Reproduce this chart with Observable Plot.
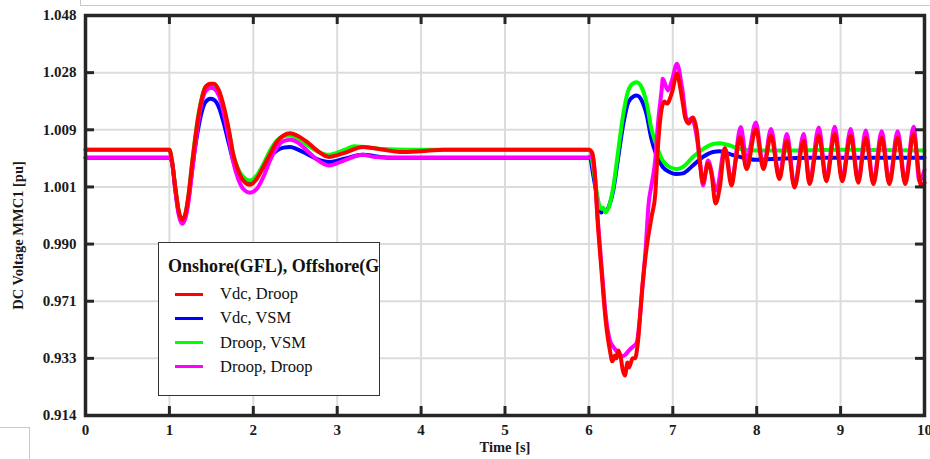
<!DOCTYPE html>
<html>
<head>
<meta charset="utf-8">
<script src="https://cdn.jsdelivr.net/npm/d3@7"></script>
<script src="https://cdn.jsdelivr.net/npm/@observablehq/plot@0.6"></script>
<style>
  html, body { margin: 0; padding: 0; background: #fff; }
  #wrap { position: relative; width: 930px; height: 459px; overflow: hidden; }
  .art { position: absolute; border-color: #c9c9c9; border-style: solid; border-width: 0; }
  #legend { position: absolute; left: 158px; top: 242px; width: 220px; height: 152px;
    border: 1.5px solid #333; background: #fff; overflow: hidden;
    font-family: "Liberation Serif", "Times New Roman", serif; color: #111; }
  #legend .title { position: absolute; left: 9px; top: 13px; font-weight: bold; font-size: 18px; white-space: nowrap; }
  #legend .row { position: absolute; left: 16px; height: 20px; display: flex; align-items: center; font-size: 16.5px; white-space: nowrap; }
  #legend .sw { width: 28px; height: 3px; margin-right: 17px; }
</style>
</head>
<body>
<div id="wrap"></div>
<script>
// ---- data (time [s], DC voltage [pu]) ----
const xTicks = [0, 1, 2, 3, 4, 5, 6, 7, 8, 9, 10];
const yTicks = [0.914, 0.933, 0.971, 0.990, 1.001, 1.009, 1.028, 1.048];
const seriesNames = ["Vdc, Droop", "Vdc, VSM", "Droop, VSM", "Droop, Droop"];
const seriesColors = ["#ff0000", "#0000ff", "#00ff00", "#ff00ff"];
const legendTitle = "Onshore(GFL), Offshore(GFM)";
const xLabel = "Time [s]";
const yLabel = "DC Voltage MMC1 [pu]";

const vdcDroop = [[0,1.0062],[1.0,1.0062],[1.03,1.0047],[1.07,1.0009],[1.11,0.9965],[1.15,0.9947],[1.19,0.9958],[1.23,0.9997],[1.27,1.0042],[1.31,1.0080],[1.35,1.0143],[1.39,1.0198],[1.43,1.0232],[1.49,1.0243],[1.53,1.0243],[1.59,1.0221],[1.65,1.0165],[1.71,1.0089],[1.76,1.0056],[1.82,1.0033],[1.88,1.0019],[1.96,1.0013],[2.04,1.0021],[2.12,1.0038],[2.20,1.0056],[2.28,1.0073],[2.36,1.0082],[2.44,1.0085],[2.52,1.0082],[2.64,1.0073],[2.76,1.0061],[2.90,1.0052],[3.07,1.0057],[3.31,1.0066],[3.55,1.0062],[3.75,1.0059],[3.99,1.0060],[4.27,1.0062],[4.6,1.0062],[6.0,1.0062],
[6.04,1.0058],[6.07,1.0029],[6.10,0.9955],[6.15,0.9812],[6.20,0.9582],[6.25,0.9383],[6.28,0.9320],[6.31,0.9349],[6.33,0.9330],[6.35,0.9383],[6.38,0.9336],[6.40,0.9296],[6.43,0.9273],[6.46,0.9316],[6.48,0.9300],[6.52,0.9330],[6.55,0.9330],[6.58,0.9416],[6.64,0.9769],[6.70,0.9907],[6.75,0.9955],[6.79,0.9994],[6.82,1.0061],[6.87,1.0164],[6.90,1.0184],[6.93,1.0177],[6.99,1.0214],[7.05,1.0277],[7.08,1.0244],[7.12,1.0177],[7.15,1.0128],[7.19,1.0111],[7.24,1.0131],[7.29,1.0085],[7.32,1.0047],[7.36,1.0016],[7.42,1.0043],[7.46,1.0029],[7.51,0.9978],[7.56,1.0009],[7.62,1.0064],[7.70,1.0012],[7.75,1.0047],[7.80,1.0080],[7.88,1.0035],[7.99,1.0093],[8.08,1.0035],[8.17,1.0082],[8.27,1.0021],[8.36,1.0075],[8.45,1.0009],[8.56,1.0075],[8.63,1.0014],[8.74,1.0082],[8.83,1.0018],[8.93,1.0084],[9.02,1.0018],[9.12,1.0082],[9.21,1.0016],[9.30,1.0079],[9.39,1.0014],[9.49,1.0079],[9.58,1.0014],[9.68,1.0079],[9.77,1.0014],[9.87,1.0084],[9.96,1.0011],[10.0,1.0016]];

const vdcVsm = [[0,1.0051],[1.0,1.0051],[1.03,1.0045],[1.07,1.0007],[1.11,0.9961],[1.15,0.9946],[1.19,0.9955],[1.23,0.9990],[1.27,1.0033],[1.31,1.0068],[1.35,1.0104],[1.39,1.0154],[1.43,1.0182],[1.49,1.0193],[1.53,1.0190],[1.59,1.0165],[1.65,1.0110],[1.71,1.0070],[1.76,1.0047],[1.82,1.0031],[1.88,1.0020],[1.96,1.0017],[2.04,1.0023],[2.12,1.0038],[2.20,1.0052],[2.28,1.0061],[2.36,1.0065],[2.44,1.0066],[2.52,1.0063],[2.64,1.0056],[2.76,1.0049],[2.90,1.0045],[3.1,1.0050],[3.3,1.0055],[3.6,1.0051],[6.0,1.0051],
[6.01,1.0052],[6.05,1.0028],[6.09,0.9997],[6.12,0.9968],[6.15,0.9961],[6.17,0.9966],[6.21,0.9965],[6.25,0.9978],[6.29,1.0003],[6.35,1.0052],[6.41,1.0110],[6.47,1.0182],[6.53,1.0201],[6.57,1.0204],[6.63,1.0187],[6.69,1.0138],[6.74,1.0080],[6.80,1.0056],[6.88,1.0038],[6.96,1.0031],[7.04,1.0028],[7.12,1.0029],[7.24,1.0040],[7.36,1.0052],[7.48,1.0059],[7.56,1.0060],[7.68,1.0056],[7.80,1.0052],[7.99,1.0048],[8.19,1.0049],[8.6,1.0051],[10,1.0051]];

const droopVsm = [[0,1.0062],[1.0,1.0062],[1.03,1.0047],[1.07,1.0009],[1.11,0.9964],[1.15,0.9946],[1.19,0.9958],[1.23,0.9997],[1.27,1.0043],[1.31,1.0082],[1.35,1.0147],[1.39,1.0201],[1.43,1.0233],[1.49,1.0241],[1.53,1.0238],[1.59,1.0218],[1.65,1.0160],[1.71,1.0087],[1.76,1.0056],[1.82,1.0035],[1.88,1.0024],[1.96,1.0019],[2.04,1.0026],[2.12,1.0042],[2.20,1.0061],[2.28,1.0075],[2.36,1.0081],[2.44,1.0082],[2.52,1.0079],[2.64,1.0069],[2.76,1.0060],[2.90,1.0055],[3.11,1.0063],[3.2,1.0067],[3.55,1.0063],[3.84,1.0062],[6.0,1.0062],
[6.01,1.0062],[6.05,1.0038],[6.09,1.0003],[6.13,0.9971],[6.15,0.9968],[6.17,0.9970],[6.20,0.9961],[6.25,0.9978],[6.29,1.0009],[6.35,1.0061],[6.41,1.0143],[6.47,1.0221],[6.53,1.0245],[6.57,1.0248],[6.63,1.0230],[6.69,1.0176],[6.74,1.0099],[6.80,1.0070],[6.88,1.0047],[6.96,1.0038],[7.04,1.0035],[7.12,1.0038],[7.24,1.0052],[7.36,1.0063],[7.48,1.0070],[7.56,1.0071],[7.68,1.0068],[7.80,1.0063],[7.99,1.0061],[8.3,1.0061],[9,1.0062],[10,1.0061]];

const droopDroop = [[0,1.0051],[1.0,1.0051],[1.03,1.0045],[1.07,1.0003],[1.11,0.9957],[1.15,0.9939],[1.19,0.9949],[1.23,0.9984],[1.27,1.0031],[1.31,1.0070],[1.35,1.0127],[1.39,1.0187],[1.43,1.0218],[1.49,1.0230],[1.53,1.0227],[1.59,1.0204],[1.65,1.0143],[1.71,1.0077],[1.76,1.0045],[1.82,1.0021],[1.88,1.0006],[1.96,0.9999],[2.04,1.0006],[2.12,1.0024],[2.20,1.0047],[2.28,1.0065],[2.36,1.0074],[2.44,1.0076],[2.52,1.0073],[2.64,1.0061],[2.76,1.0048],[2.90,1.0040],[3.1,1.0048],[3.3,1.0055],[3.45,1.0052],[3.7,1.0051],[6.0,1.0051],
[6.04,1.0054],[6.07,1.0030],[6.10,0.9961],[6.15,0.9829],[6.20,0.9620],[6.25,0.9450],[6.30,0.9400],[6.35,0.9365],[6.40,0.9345],[6.43,0.9352],[6.48,0.9385],[6.53,0.9410],[6.57,0.9435],[6.60,0.9560],[6.64,0.9760],[6.68,0.9900],[6.71,0.9975],[6.75,1.0015],[6.79,1.0047],[6.82,1.0100],[6.87,1.0231],[6.88,1.0260],[6.94,1.0221],[6.99,1.0254],[7.05,1.0311],[7.11,1.0231],[7.17,1.0121],[7.23,1.0128],[7.26,1.0104],[7.32,1.0051],[7.36,1.0012],[7.42,1.0047],[7.52,1.0003],[7.62,1.0064],[7.70,1.0019],[7.81,1.0099],[7.88,1.0047],[7.99,1.0114],[8.08,1.0038],[8.17,1.0093],[8.27,1.0024],[8.36,1.0084],[8.45,1.0012],[8.56,1.0084],[8.63,1.0017],[8.74,1.0098],[8.83,1.0021],[8.93,1.0100],[9.02,1.0021],[9.12,1.0093],[9.21,1.0019],[9.30,1.0089],[9.39,1.0017],[9.49,1.0088],[9.58,1.0017],[9.68,1.0088],[9.77,1.0017],[9.87,1.0100],[9.94,1.0018],[10.0,1.0034]];

const seriesData = [vdcDroop, vdcVsm, droopVsm, droopDroop];

// ---- layout ----
const W = 930, H = 459, mL = 85, mR = 6, mT = 15, mB = 44;
const frameW = W - mL - mR, frameH = H - mT - mB;
const tickLen = 9;
const axisColor = "#262626", gridColor = "#dcdcdc";

// The original axis places its (non-uniform) tick values at equal spacing:
// map pu values piecewise-linearly onto tick-index space before scaling.
const tickIndex = yTicks.map((_, i) => i);
const toIndex = d3.scaleLinear().domain(yTicks).range(tickIndex);

const rows = [];
seriesData.forEach((arr, k) => arr.forEach(([t, v]) => rows.push({t, v, s: seriesNames[k]})));
const drawOrder = [1, 2, 3, 0]; // blue, green, magenta, red on top

const chart = Plot.plot({
  width: W, height: H,
  marginLeft: mL, marginRight: mR, marginTop: mT, marginBottom: mB,
  style: { fontFamily: "'Liberation Serif', 'Times New Roman', serif", fontWeight: "bold", fontSize: "15px", color: "#1a1a1a", background: "transparent" },
  x: { domain: [0, 10], ticks: xTicks, tickSize: 0, tickPadding: 9, tickFormat: d => String(d), label: null },
  y: { transform: v => toIndex(v), domain: [0, yTicks.length - 1], ticks: tickIndex, tickSize: 0, tickPadding: 9,
       tickFormat: i => d3.format(".3f")(yTicks[i]), label: null },
  marks: [
    Plot.ruleX(xTicks, { x: d => d, stroke: gridColor, strokeWidth: 2 }),
    Plot.ruleY(yTicks, { y: d => d, stroke: gridColor, strokeWidth: 2 }),
    ...drawOrder.map(k => Plot.line(rows.filter(r => r.s === seriesNames[k]), {
      x: "t", y: "v", stroke: seriesColors[k], strokeWidth: 4, curve: "monotone-x", strokeLinejoin: "round"
    })),
    Plot.tickX(xTicks, { x: d => d, insetBottom: frameH - tickLen, stroke: axisColor, strokeWidth: 3 }),
    Plot.tickX(xTicks, { x: d => d, insetTop: frameH - tickLen, stroke: axisColor, strokeWidth: 3 }),
    Plot.tickY(yTicks, { y: d => d, insetRight: frameW - tickLen, stroke: axisColor, strokeWidth: 3 }),
    Plot.tickY(yTicks, { y: d => d, insetLeft: frameW - tickLen, stroke: axisColor, strokeWidth: 3 }),
    Plot.frame({ stroke: axisColor, strokeWidth: 3.5 }),
    Plot.text([xLabel], { text: d => d, frameAnchor: "bottom", lineAnchor: "middle", textAnchor: "middle", dy: 32, fontSize: 14.5, fontWeight: "bold" }),
    Plot.text([yLabel], { text: d => d, frameAnchor: "left", lineAnchor: "middle", textAnchor: "middle", dx: -67, dy: 20, rotate: -90, fontSize: 14.5, fontWeight: "bold" })
  ]
});

const wrap = document.getElementById("wrap");
chart.style.position = "absolute";
chart.style.left = "0px";
chart.style.top = "0px";
wrap.appendChild(chart);

// faint frame artifacts around the figure
function art(css) { const d = document.createElement("div"); d.className = "art"; Object.assign(d.style, css); wrap.appendChild(d); }
art({ left: "80px", top: "-5px", width: "860px", height: "10px", borderBottomWidth: "1.5px", borderLeftWidth: "1.5px" });
art({ left: "-5px", top: "427px", width: "34px", height: "40px", borderTopWidth: "1.5px", borderRightWidth: "1.5px" });

// legend
const lg = document.createElement("div");
lg.id = "legend";
const tt = document.createElement("div");
tt.className = "title"; tt.textContent = legendTitle;
lg.appendChild(tt);
seriesNames.forEach((name, k) => {
  const r = document.createElement("div");
  r.className = "row";
  r.style.top = (41 + k * 24.3) + "px";
  const sw = document.createElement("span");
  sw.className = "sw"; sw.style.background = seriesColors[k];
  const tx = document.createElement("span");
  tx.textContent = name;
  r.appendChild(sw); r.appendChild(tx);
  lg.appendChild(r);
});
wrap.appendChild(lg);
</script>
</body>
</html>
